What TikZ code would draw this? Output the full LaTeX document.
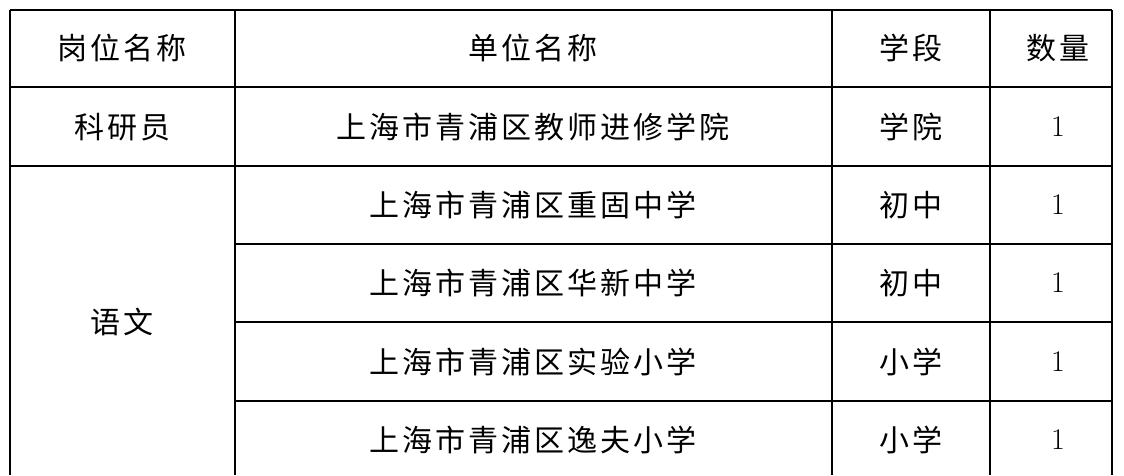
\documentclass[tikz,border=0pt]{standalone}
\usepackage{fontspec}
\newfontfamily\cjk[LetterSpace=10]{Noto Sans CJK SC}
\begin{document}
\begin{tikzpicture}[x=1pt,y=-1pt,
  cell/.style={font=\cjk\fontsize{30}{30}\selectfont,anchor=center,inner sep=0pt},
  num/.style={font=\fontsize{30}{30}\selectfont,anchor=center,inner sep=0pt},
  grid/.style={line width=1.3pt}]
\useasboundingbox (0,0) rectangle (1124,475);
% lines
\coordinate (tl) at (10,10);
\draw[grid] (10,10) -- (1112,10);
\foreach \y in {87,166} \draw[grid] (10,\y) -- (1112,\y);
\foreach \y in {244,322,401} \draw[grid] (235,\y) -- (1112,\y);
\foreach \x in {10,235,832,990,1112} \draw[grid] (\x,10) -- (\x,475);
% header
\node[cell] (h1) at (122,48) {岗位名称};
\node[cell] (h2) at (533,48) {单位名称};
\node[cell] (h3) at (911,48) {学段};
\node[cell] (h4) at (1058,48) {数量};
% row 1
\node[cell] (a1) at (122,127) {科研员};
\node[cell] (b1) at (533,127) {上海市青浦区教师进修学院};
\node[cell] (c1) at (911,127) {学院};
\node[num] (d1) at (1058,127) {1};
% yuwen
\node[cell] (a2) at (122,322) {语文};
\node[cell] (b2) at (533,205) {上海市青浦区重固中学};
\node[cell] (c2) at (911,205) {初中};
\node[num] (d2) at (1058,205) {1};
\node[cell] (b3) at (533,283) {上海市青浦区华新中学};
\node[cell] (c3) at (911,283) {初中};
\node[num] (d3) at (1058,283) {1};
\node[cell] (b4) at (533,362) {上海市青浦区实验小学};
\node[cell] (c4) at (911,362) {小学};
\node[num] (d4) at (1058,362) {1};
\node[cell] (b5) at (533,440) {上海市青浦区逸夫小学};
\node[cell] (c5) at (911,440) {小学};
\node[num] (d5) at (1058,440) {1};
\end{tikzpicture}
\end{document}
